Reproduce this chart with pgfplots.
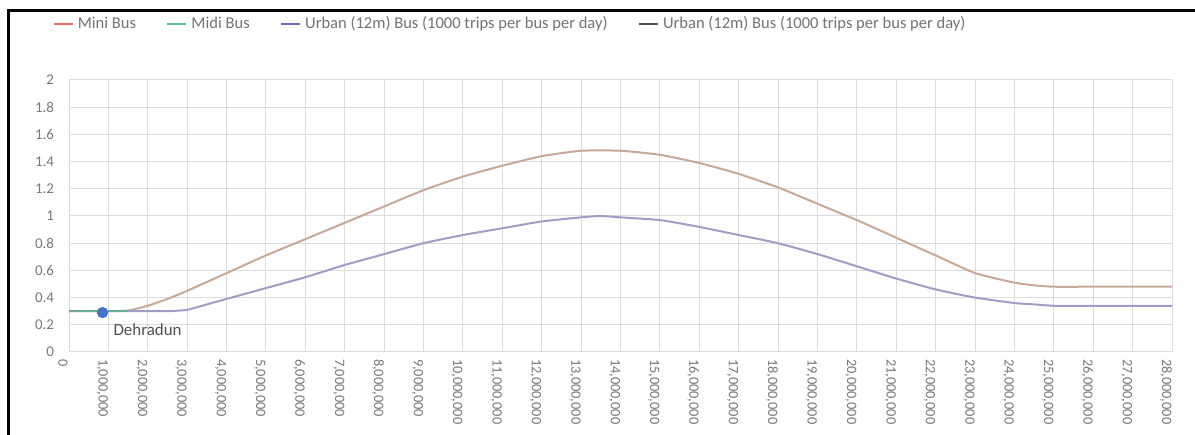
\documentclass[border=0pt]{standalone}
\usepackage{pgfplots}
\pgfplotsset{compat=1.18}
\usepackage{fontspec}
\setmainfont{Carlito}

\definecolor{tickgray}{RGB}{120,120,120}
\definecolor{gridgray}{RGB}{220,220,220}
\definecolor{miniRed}{RGB}{232,112,108}
\definecolor{midiGreen}{RGB}{96,190,160}
\definecolor{urbanBlue}{RGB}{112,112,184}
\definecolor{urbanGray}{RGB}{80,80,80}
\definecolor{upperCurve}{RGB}{200,168,152}
\definecolor{lowerCurve}{RGB}{158,158,198}
\definecolor{dotBlue}{RGB}{68,114,196}

% x in millions of trips
\pgfplotstableread{
x y
0 0.30
1 0.30
1.5 0.305
2 0.34
2.5 0.39
3 0.45
4 0.58
5 0.71
6 0.83
7 0.95
8 1.07
9 1.19
10 1.29
11 1.37
12 1.44
13 1.48
14 1.48
15 1.45
16 1.39
17 1.31
18 1.21
19 1.09
20 0.97
21 0.84
22 0.71
23 0.58
24 0.51
24.5 0.49
25 0.48
26 0.48
27 0.48
28 0.48
}\minibus

\pgfplotstableread{
x y
0 0.30
1 0.30
1.5 0.30
}\midibus

\pgfplotstableread{
x y
0 0.30
2 0.30
2.5 0.30
3 0.31
3.5 0.35
4 0.39
5 0.47
6 0.55
7 0.64
8 0.72
9 0.80
10 0.86
11 0.91
12 0.96
13 0.99
13.5 1.00
14 0.99
15 0.97
16 0.92
17 0.86
18 0.80
19 0.72
20 0.63
21 0.54
22 0.46
23 0.40
24 0.36
24.5 0.35
25 0.34
26 0.34
27 0.34
28 0.34
}\urban

\begin{document}
\begin{tikzpicture}
\clip (0,0) rectangle (597.5bp,217.5bp);
\fill[white] (0,0) rectangle (597.5bp,217.5bp);
\draw[line width=1.2bp] (4.25bp,0) -- (4.25bp,212.25bp) -- (597.5bp,212.25bp);
\begin{axis}[
    at={(34.5bp,41.5bp)}, anchor=south west,
    scale only axis,
    width=551.5bp, height=136bp,
    xmin=0, xmax=28, ymin=0, ymax=2,
    axis line style={draw=none},
    grid=major, grid style={gridgray, line width=0.5bp},
    major tick length=0pt,
    xtick={0,1,...,28},
    xticklabels={0,{1,000,000},{2,000,000},{3,000,000},{4,000,000},{5,000,000},{6,000,000},{7,000,000},{8,000,000},{9,000,000},{10,000,000},{11,000,000},{12,000,000},{13,000,000},{14,000,000},{15,000,000},{16,000,000},{17,000,000},{18,000,000},{19,000,000},{20,000,000},{21,000,000},{22,000,000},{23,000,000},{24,000,000},{25,000,000},{26,000,000},{27,000,000},{28,000,000}},
    ytick={0,0.2,...,2},
    yticklabel style={/pgf/number format/assume math mode=true, /pgf/number format/fixed, font=\fontsize{7.5}{8.5}\selectfont, text=tickgray, xshift=-4bp},
    xticklabel style={font=\fontsize{7.2}{8}\selectfont, text=tickgray, rotate=-90, anchor=west, yshift=-3bp},
    legend columns=-1,
    legend style={draw=none, fill=none, inner sep=0pt, at={(-0.0154,1.206)}, anchor=west,
        font=\fontsize{8.3}{10}\selectfont, text=urbanGray!80,
        /tikz/every even column/.append style={column sep=13bp}},
    legend image code/.code={\draw[#1, line width=1.2bp] (0bp,0bp) -- (9.5bp,0bp);},
    clip=false,
]
\addlegendimage{miniRed}
\addlegendentry{Mini Bus}
\addlegendimage{midiGreen}
\addlegendentry{Midi Bus}
\addlegendimage{urbanBlue}
\addlegendentry{Urban (12m) Bus (1000 trips per bus per day)}
\addlegendimage{urbanGray}
\addlegendentry{Urban (12m) Bus (1000 trips per bus per day)}

\addplot[forget plot, upperCurve, line width=1bp, smooth, tension=0.3] table {\minibus};
\addplot[forget plot, lowerCurve, line width=1bp, smooth, tension=0.3] table {\urban};
\addplot[forget plot, midiGreen!70!gray, line width=1bp] table {\midibus};
\addplot[forget plot, only marks, mark=*, mark size=2.6bp, dotBlue] coordinates {(0.85,0.29)}
    node[pos=0, anchor=north west, xshift=2bp, yshift=-2bp, text=urbanGray, font=\fontsize{8.5}{10}\selectfont] {Dehradun};
\end{axis}
\end{tikzpicture}
\end{document}
